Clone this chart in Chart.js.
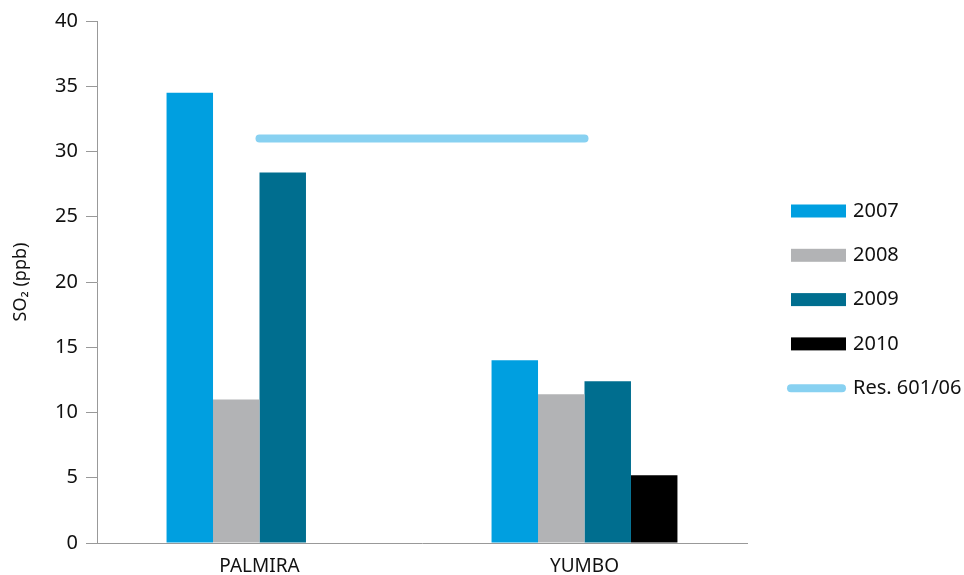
<!DOCTYPE html>
<html>
<head>
<meta charset="utf-8">
<script src="https://cdn.jsdelivr.net/npm/chart.js@4"></script>
<style>
  body { margin: 0; background: #fff; }
  canvas { display: block; }
</style>
</head>
<body>
<canvas id="myChart" width="964" height="575"></canvas>
<script>
// Data
var stations = ["PALMIRA", "YUMBO"];
var years = ["2007", "2008", "2009", "2010"];
var so2_2007 = [34.5, 14.0];
var so2_2008 = [11.0, 11.4];
var so2_2009 = [28.4, 12.4];
var so2_2010 = [null, 5.2];
var limitLabel = "Res. 601/06";
var limitValue = [31, 31];
var yTicks = [0, 5, 10, 15, 20, 25, 30, 35, 40];

var barColors = ['#009FE0', '#B2B3B5', '#006E8F', '#000000'];
var lineColor = '#88D1F1';
var font = '"Noto Sans", "Open Sans", sans-serif';

// Legend on the right, drawn by hand so the line item looks like a line
var sideLegend = {
    id: 'sideLegend',
    afterDraw: function(chart) {
        var ctx = chart.ctx;
        var x = 791, y = 211, step = 44.3;
        ctx.save();
        ctx.font = '20px ' + font;
        ctx.textBaseline = 'middle';
        chart.data.datasets.forEach(function(ds, i) {
            var cy = y + i * step;
            if (ds.type === 'line') {
                ctx.strokeStyle = ds.borderColor;
                ctx.lineWidth = 8;
                ctx.lineCap = 'round';
                ctx.beginPath();
                ctx.moveTo(x, cy);
                ctx.lineTo(x + 51, cy);
                ctx.stroke();
            } else {
                ctx.fillStyle = ds.backgroundColor;
                ctx.fillRect(x, cy - 6.5, 55, 13);
            }
            ctx.fillStyle = '#111111';
            ctx.fillText(ds.label, x + 62, cy);
        });
        ctx.restore();
    }
};

window.addEventListener('load', function() {
    var ctx = document.getElementById('myChart').getContext('2d');
    var seriesData = [so2_2007, so2_2008, so2_2009, so2_2010];

    var datasets = [];
    years.forEach(function(y, i) {
        datasets.push({
            type: 'bar',
            label: y,
            data: seriesData[i],
            backgroundColor: barColors[i],
            borderWidth: 0,
            barPercentage: 1,
            categoryPercentage: 0.572,
            order: 2
        });
    });
    datasets.push({
        type: 'line',
        label: limitLabel,
        data: limitValue,
        borderColor: lineColor,
        backgroundColor: lineColor,
        borderWidth: 8,
        borderCapStyle: 'round',
        pointRadius: 0,
        order: 1
    });

    new Chart(ctx, {
        type: 'bar',
        data: { labels: stations, datasets: datasets },
        options: {
            responsive: false,
            animation: false,
            devicePixelRatio: 1,
            layout: { padding: { left: 0, right: 217, top: 21, bottom: 0 } },
            plugins: {
                legend: { display: false },
                tooltip: { enabled: false }
            },
            scales: {
                x: {
                    grid: { display: false },
                    border: { color: '#999999', width: 1 },
                    ticks: { color: '#111111', font: { family: font, size: 19 }, padding: 4 },
                    afterFit: function(s) { s.height = 32; }
                },
                y: {
                    min: 0,
                    max: 40,
                    afterBuildTicks: function(s) {
                        s.ticks = yTicks.map(function(v) { return { value: v }; });
                    },
                    grid: { display: true, drawOnChartArea: false, drawTicks: true, tickLength: 11, color: '#999999' },
                    border: { color: '#999999', width: 1 },
                    ticks: { color: '#111111', font: { family: font, size: 20 }, padding: 8 },
                    title: {
                        display: true,
                        text: 'SO₂ (ppb)',
                        color: '#111111',
                        font: { family: font, size: 18 },
                        padding: { top: 10, bottom: 0 }
                    },
                    afterFit: function(s) { s.width = 97; }
                }
            }
        },
        plugins: [sideLegend]
    });
});
</script>
</body>
</html>
